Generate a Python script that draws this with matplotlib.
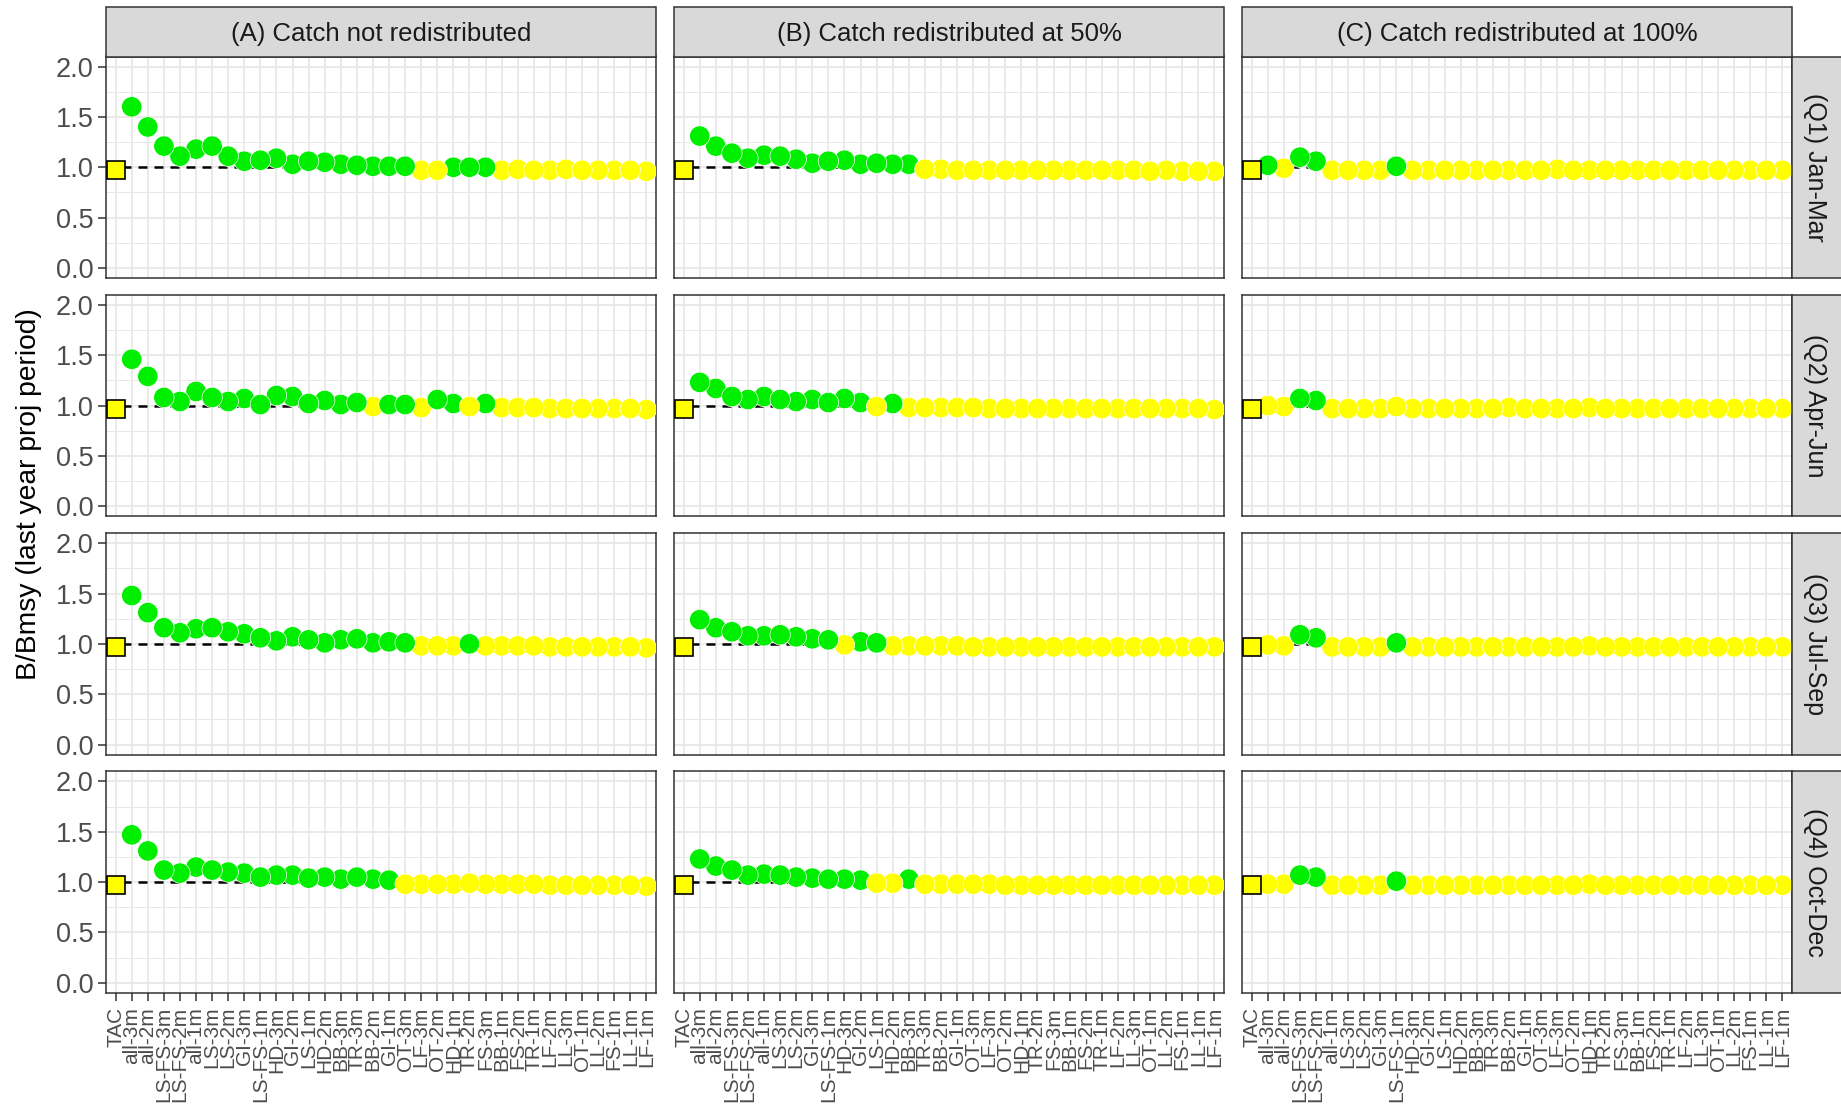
import matplotlib
matplotlib.use("Agg")
import matplotlib.pyplot as plt
from matplotlib.patches import Rectangle
from matplotlib.ticker import FixedLocator
import numpy as np

plt.rcParams['font.family'] = ['Liberation Sans', 'DejaVu Sans']

# ---------------------------------------------------------------- data
scenarios = ["TAC", "all-3m", "all-2m", "LS-FS-3m", "LS-FS-2m", "all-1m", "LS-3m", "LS-2m",
             "GI-3m", "LS-FS-1m", "HD-3m", "GI-2m", "LS-1m", "HD-2m", "BB-3m", "TR-3m",
             "BB-2m", "GI-1m", "OT-3m", "LF-3m", "OT-2m", "HD-1m", "TR-2m", "FS-3m",
             "BB-1m", "FS-2m", "TR-1m", "LF-2m", "LL-3m", "OT-1m", "LL-2m", "FS-1m",
             "LL-1m", "LF-1m"]

redistribution = ["(A) Catch not redistributed",
                  "(B) Catch redistributed at 50%",
                  "(C) Catch redistributed at 100%"]
quarters = ["(Q1) Jan-Mar", "(Q2) Apr-Jun", "(Q3) Jul-Sep", "(Q4) Oct-Dec"]

# B/Bmsy in the last projection year, one list per quarter x redistribution level
q1_a = [0.97, 1.60, 1.40, 1.21, 1.11, 1.18, 1.21, 1.11, 1.06, 1.07,
        1.09, 1.03, 1.06, 1.05, 1.03, 1.02, 1.01, 1.01, 1.01, 0.97,
        0.97, 1.00, 1.00, 1.00, 0.97, 0.98, 0.97, 0.97, 0.98, 0.97,
        0.97, 0.97, 0.97, 0.96]
q1_b = [0.97, 1.31, 1.21, 1.14, 1.09, 1.12, 1.11, 1.08, 1.04, 1.06,
        1.07, 1.03, 1.04, 1.03, 1.03, 0.98, 0.98, 0.97, 0.97, 0.97,
        0.97, 0.97, 0.97, 0.97, 0.97, 0.97, 0.97, 0.97, 0.97, 0.96,
        0.97, 0.96, 0.96, 0.96]
q1_c = [0.97, 1.02, 0.99, 1.10, 1.06, 0.97, 0.97, 0.97, 0.97, 1.01,
        0.97, 0.97, 0.97, 0.97, 0.97, 0.97, 0.97, 0.97, 0.97, 0.98,
        0.97, 0.97, 0.97, 0.97, 0.97, 0.97, 0.97, 0.97, 0.97, 0.97,
        0.97, 0.97, 0.97, 0.97]

q2_a = [0.97, 1.46, 1.29, 1.08, 1.04, 1.14, 1.08, 1.04, 1.07, 1.01,
        1.10, 1.09, 1.02, 1.05, 1.01, 1.03, 0.99, 1.01, 1.01, 0.98,
        1.06, 1.02, 0.99, 1.02, 0.98, 0.98, 0.98, 0.97, 0.97, 0.97,
        0.97, 0.97, 0.97, 0.96]
q2_b = [0.97, 1.23, 1.17, 1.09, 1.06, 1.09, 1.06, 1.04, 1.06, 1.03,
        1.07, 1.03, 0.99, 1.02, 0.98, 0.98, 0.98, 0.98, 0.98, 0.97,
        0.97, 0.97, 0.97, 0.97, 0.97, 0.97, 0.97, 0.97, 0.97, 0.97,
        0.97, 0.97, 0.97, 0.96]
q2_c = [0.97, 1.00, 0.99, 1.07, 1.05, 0.97, 0.97, 0.97, 0.97, 0.99,
        0.97, 0.97, 0.97, 0.97, 0.97, 0.97, 0.98, 0.97, 0.97, 0.97,
        0.97, 0.98, 0.97, 0.97, 0.97, 0.97, 0.97, 0.97, 0.97, 0.97,
        0.97, 0.97, 0.97, 0.97]

q3_a = [0.97, 1.48, 1.31, 1.16, 1.11, 1.15, 1.16, 1.12, 1.10, 1.06,
        1.03, 1.07, 1.04, 1.01, 1.04, 1.05, 1.01, 1.02, 1.01, 0.98,
        0.98, 0.98, 1.00, 0.98, 0.98, 0.98, 0.98, 0.97, 0.97, 0.97,
        0.97, 0.97, 0.97, 0.96]
q3_b = [0.97, 1.24, 1.16, 1.12, 1.08, 1.08, 1.09, 1.07, 1.05, 1.04,
        0.99, 1.02, 1.01, 0.98, 0.98, 0.98, 0.98, 0.98, 0.97, 0.97,
        0.97, 0.97, 0.97, 0.97, 0.97, 0.97, 0.97, 0.97, 0.97, 0.97,
        0.97, 0.97, 0.97, 0.97]
q3_c = [0.97, 0.99, 0.98, 1.09, 1.06, 0.97, 0.97, 0.97, 0.97, 1.01,
        0.97, 0.97, 0.97, 0.97, 0.97, 0.97, 0.97, 0.97, 0.97, 0.97,
        0.97, 0.98, 0.97, 0.97, 0.97, 0.97, 0.97, 0.97, 0.97, 0.97,
        0.97, 0.97, 0.97, 0.97]

q4_a = [0.97, 1.47, 1.31, 1.12, 1.09, 1.15, 1.12, 1.10, 1.09, 1.05,
        1.07, 1.07, 1.04, 1.05, 1.03, 1.05, 1.03, 1.02, 0.98, 0.98,
        0.98, 0.98, 0.99, 0.98, 0.98, 0.98, 0.98, 0.97, 0.97, 0.97,
        0.97, 0.97, 0.97, 0.96]
q4_b = [0.97, 1.23, 1.16, 1.12, 1.07, 1.08, 1.07, 1.05, 1.04, 1.03,
        1.03, 1.02, 0.99, 0.99, 1.03, 0.98, 0.98, 0.98, 0.98, 0.98,
        0.97, 0.97, 0.97, 0.97, 0.97, 0.97, 0.97, 0.97, 0.97, 0.97,
        0.97, 0.97, 0.97, 0.97]
q4_c = [0.97, 0.98, 0.98, 1.07, 1.05, 0.97, 0.97, 0.97, 0.97, 1.01,
        0.97, 0.97, 0.97, 0.97, 0.97, 0.97, 0.97, 0.97, 0.97, 0.97,
        0.97, 0.98, 0.97, 0.97, 0.97, 0.97, 0.97, 0.97, 0.97, 0.97,
        0.97, 0.97, 0.97, 0.97]

# G = significantly above the TAC scenario, Y = not
q1_a_flag = "Y" "GGGGG" "GGGGG" "GGGGG" "GGG" "YY" "GGG" "YYYYY" "YYYYY"
q1_b_flag = "Y" "GGGGG" "GGGGG" "GGGG" "YYYYY" "YYYYY" "YYYYY" "YYYY"
q1_c_flag = "YGYGGYYYYG" "YYYYY" "YYYYY" "YYYYY" "YYYYY" "YYYY"
q2_a_flag = "Y" "GGGGG" "GGGGG" "GGGGG" "Y" "GG" "Y" "GG" "Y" "G" "YYYYY" "YYYYY"
q2_b_flag = "Y" "GGGGG" "GGGGG" "G" "Y" "G" "YYYYY" "YYYYY" "YYYYY" "YYYYY"
q2_c_flag = "YYY" "GG" "YYYYY" "YYYYY" "YYYYY" "YYYYY" "YYYYY" "YYYY"
q3_a_flag = "Y" "GGGGG" "GGGGG" "GGGGG" "GGG" "YYY" "G" "YYYYY" "YYYYY" "Y"
q3_b_flag = "Y" "GGGGG" "GGGG" "Y" "GG" "YYYYY" "YYYYY" "YYYYY" "YYYYY" "Y"
q3_c_flag = "YYYGGYYYYG" "YYYYY" "YYYYY" "YYYYY" "YYYYY" "YYYY"
q4_a_flag = "Y" "GGGGG" "GGGGG" "GGGGG" "GG" "YYYYY" "YYYYY" "YYYYY" "Y"
q4_b_flag = "Y" "GGGGG" "GGGGG" "G" "YY" "G" "YYYYY" "YYYYY" "YYYYY" "YYYY"
q4_c_flag = "YYYGGYYYYG" "YYYYY" "YYYYY" "YYYYY" "YYYYY" "YYYY"

values = [[q1_a, q1_b, q1_c], [q2_a, q2_b, q2_c], [q3_a, q3_b, q3_c], [q4_a, q4_b, q4_c]]
flags = [[q1_a_flag, q1_b_flag, q1_c_flag], [q2_a_flag, q2_b_flag, q2_c_flag],
         [q3_a_flag, q3_b_flag, q3_c_flag], [q4_a_flag, q4_b_flag, q4_c_flag]]

for r in range(4):
    for c in range(3):
        assert len(values[r][c]) == len(scenarios), (r, c)
        assert len(flags[r][c]) == len(scenarios), (r, c)

y_ticks = [0.0, 0.5, 1.0, 1.5, 2.0]
y_tick_labels = ["0.0", "0.5", "1.0", "1.5", "2.0"]

# ---------------------------------------------------------------- style
W, H, DPI = 1841, 1106, 100
GREEN = "#00EE00"
YELLOW = "#FFFF00"
GRID = "#E8E8E8"
BORDER = "#333333"
STRIP = "#D9D9D9"

col_left = [106, 674, 1242]
col_w = 550
row_top = [56.5, 294.8, 533.1, 771.4]
row_h = 221.5

fig = plt.figure(figsize=(W / DPI, H / DPI), dpi=DPI)
fig.patch.set_facecolor("white")


def fig_rect(x, y, w, h):
    return [x / W, 1 - (y + h) / H, w / W, h / H]


x_pos = np.arange(len(scenarios))
# points are drawn in alphabetical order of scenario name
draw_order = sorted(range(len(scenarios)), key=lambda i: scenarios[i].lower())
draw_order = [i for i in draw_order if scenarios[i] != "TAC"]

for r in range(4):
    for c in range(3):
        ax = fig.add_axes(fig_rect(col_left[c], row_top[r], col_w, row_h))
        vals = np.array(values[r][c])
        cols = np.array([GREEN if f == "G" else YELLOW for f in flags[r][c]])

        ax.set_xlim(-0.6, len(scenarios) - 1 + 0.6)
        ax.set_ylim(-0.1, 2.1)
        ax.set_xticks(x_pos)
        ax.yaxis.set_major_locator(FixedLocator(y_ticks))
        ax.yaxis.set_minor_locator(FixedLocator([0.25, 0.75, 1.25, 1.75]))
        ax.grid(which="major", color=GRID, lw=1.3, zorder=0)
        ax.grid(which="minor", axis="y", color=GRID, lw=0.7, zorder=0)
        ax.set_axisbelow(True)

        ax.axhline(1.0, color="black", lw=1.8, ls=(0, (3.6, 2.8)), zorder=1)

        ax.scatter(x_pos[draw_order], vals[draw_order], s=215, c=cols[draw_order],
                   edgecolors="white", linewidths=0.5, zorder=3)
        tac = scenarios.index("TAC")
        ax.plot(x_pos[tac], vals[tac], marker="s", ms=13, mfc=cols[tac],
                mec="black", mew=1.2, zorder=4)

        for s in ax.spines.values():
            s.set_color(BORDER)
            s.set_linewidth(1.1)

        ax.tick_params(which="minor", length=0)
        if c == 0:
            ax.set_yticklabels(y_tick_labels)
            ax.tick_params(axis="y", which="major", length=6, width=1.1, color=BORDER,
                           labelsize=19.5, labelcolor="#4D4D4D", pad=3)
        else:
            ax.tick_params(axis="y", which="major", length=0, labelleft=False)
        if r == 3:
            ax.set_xticklabels(scenarios, rotation=90, ha="center", va="top")
            ax.tick_params(axis="x", which="major", length=6, width=1.1, color=BORDER,
                           labelsize=15, labelcolor="#4D4D4D", pad=4)
        else:
            ax.tick_params(axis="x", which="major", length=0, labelbottom=False)

# column strips
for c in range(3):
    x, y, w, h = col_left[c], 7, col_w, row_top[0] - 7
    fig.add_artist(Rectangle((x / W, 1 - (y + h) / H), w / W, h / H,
                             transform=fig.transFigure, fc=STRIP, ec=BORDER, lw=1.1))
    fig.text((x + w / 2) / W, 1 - (y + h / 2 + 2) / H, redistribution[c],
             ha="center", va="center", fontsize=18.5, color="#1A1A1A")

# row strips
strip_x = col_left[2] + col_w
for r in range(4):
    x, y, w, h = strip_x, row_top[r], W - strip_x + 5, row_h
    fig.add_artist(Rectangle((x / W, 1 - (y + h) / H), w / W, h / H,
                             transform=fig.transFigure, fc=STRIP, ec=BORDER, lw=1.1))
    fig.text((x + 23) / W, 1 - (y + h / 2) / H, quarters[r], rotation=-90,
             ha="center", va="center", fontsize=18, color="#1A1A1A")

fig.text(29 / W, 1 - 494 / H, "B/Bmsy (last year proj period)", rotation=90,
         ha="center", va="center", fontsize=20.3, color="black")

fig.savefig("out.png", dpi=DPI, facecolor="white")
